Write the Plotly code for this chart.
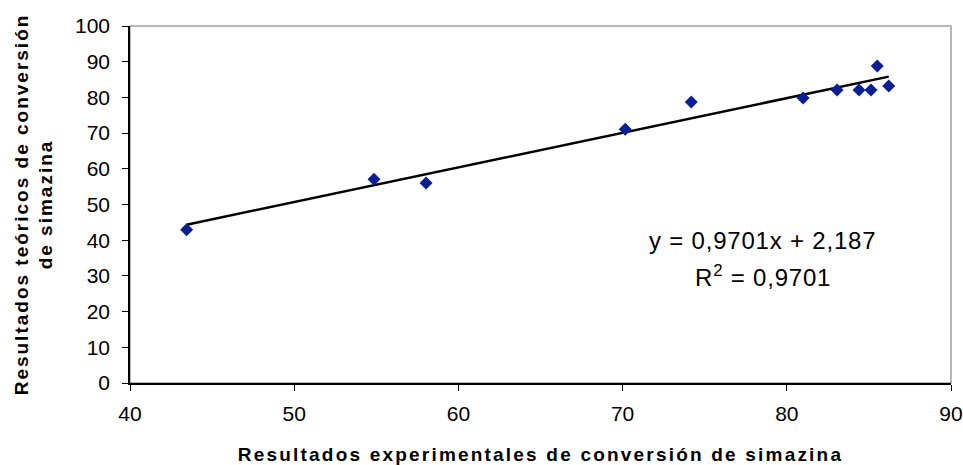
import plotly.graph_objects as go

# Experimental vs. theoretical simazine conversion (%)
experimental = [43.45, 54.86, 58.03, 70.16, 74.18, 80.99, 83.06, 84.40, 85.13, 85.51, 86.21]
theoretical = [42.9, 57.1, 56.0, 71.1, 78.7, 79.8, 82.1, 82.1, 82.1, 88.8, 83.2]

# Linear fit reported for the data
slope = 0.9701
intercept = 2.187
r_squared = 0.9701

x_ticks = [40, 50, 60, 70, 80, 90]
y_ticks = [0, 10, 20, 30, 40, 50, 60, 70, 80, 90, 100]

FONT = "Liberation Sans, Arial, sans-serif"

fit_x = [min(experimental), max(experimental)]
fit_y = [slope * v + intercept for v in fit_x]

fig = go.Figure()
fig.add_trace(go.Scatter(
    x=fit_x, y=fit_y, mode="lines",
    line=dict(color="black", width=2.5), hoverinfo="skip", showlegend=False,
))
fig.add_trace(go.Scatter(
    x=experimental, y=theoretical, mode="markers",
    marker=dict(symbol="diamond", size=10, color="#0A1F94", line=dict(width=0)),
    showlegend=False,
))

def fmt(v, nd):
    return f"{v:.{nd}f}".replace(".", ",")

eq_text = f"y = {fmt(slope, 4)}x + {fmt(intercept, 3)}"
r2_text = f"R<sup>2</sup> = {fmt(r_squared, 4)}"

fig.add_annotation(
    x=0.771, y=0.40, xref="paper", yref="paper", showarrow=False,
    text=f'<span style="letter-spacing:0.8px">{eq_text}</span>',
    font=dict(family=FONT, size=24, color="black"), xanchor="center", yanchor="middle",
)
fig.add_annotation(
    x=0.771, y=0.30, xref="paper", yref="paper", showarrow=False,
    text=f'<span style="letter-spacing:0.8px">{r2_text}</span>',
    font=dict(family=FONT, size=24, color="black"), xanchor="center", yanchor="middle",
)

# grey frame for the top and right edges of the plot area
fig.add_shape(type="rect", xref="paper", yref="paper", x0=0, y0=0, x1=1, y1=1,
              line=dict(color="#A0A0A0", width=1.5), layer="below")

title_font = dict(family=FONT, size=19, color="black", weight="bold")
tick_font = dict(family=FONT, size=21, color="black")

fig.update_layout(
    width=963, height=465,
    margin=dict(l=130, r=12, t=26, b=82, autoexpand=False),
    paper_bgcolor="white", plot_bgcolor="white",
    font=dict(family=FONT, color="black"),
    xaxis=dict(
        range=[40, 90], tickvals=x_ticks, ticktext=[str(v) for v in x_ticks],
        showgrid=False, zeroline=False, showline=True, linecolor="black", linewidth=1.5,
        ticks="outside", ticklen=6, tickcolor="black", tickwidth=1,
        tickfont=tick_font, ticklabelstandoff=5,
        title=dict(text='<span style="letter-spacing:2.2px">Resultados experimentales de conversión de simazina</span>',
                   font=title_font, standoff=26),
    ),
    yaxis=dict(
        range=[0, 100], tickvals=y_ticks, ticktext=[str(v) for v in y_ticks],
        showgrid=False, zeroline=False, showline=True, linecolor="black", linewidth=1.5,
        ticks="outside", ticklen=6, tickcolor="black", tickwidth=1,
        tickfont=tick_font, ticklabelstandoff=8,
        title=dict(text='<span style="letter-spacing:2px">Resultados teóricos de conversión<br>de simazina</span>',
                   font=title_font, standoff=17),
    ),
)

fig.write_html("out.html")
